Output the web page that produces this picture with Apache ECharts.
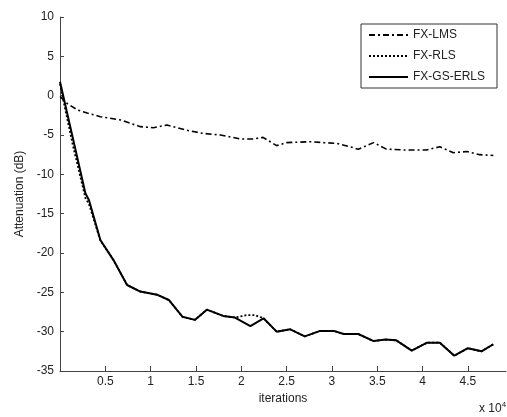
<!DOCTYPE html>
<html>
<head>
<meta charset="utf-8">
<script src="https://cdn.jsdelivr.net/npm/echarts@6/dist/echarts.min.js"></script>
<style>html,body{margin:0;padding:0;background:#fff}#c{width:507px;height:417px}</style>
</head>
<body>
<div id="c"></div>
<script>
// x values in units of 1e4 iterations
const lmsX = [0, 0.08, 0.19, 0.30, 0.445, 0.67, 0.886, 1.03, 1.18, 1.40, 1.58, 1.77, 1.99, 2.13, 2.24, 2.39, 2.50, 2.76, 2.91, 3.05, 3.20, 3.29, 3.46, 3.60, 3.79, 4.04, 4.19, 4.34, 4.49, 4.63, 4.78];
const lmsY = [-0.1, -1.0, -1.8, -2.2, -2.67, -3.1, -3.94, -4.07, -3.73, -4.4, -4.8, -5.0, -5.5, -5.5, -5.3, -6.35, -5.97, -5.85, -5.97, -6.06, -6.5, -6.8, -5.97, -6.8, -6.9, -6.9, -6.5, -7.25, -7.1, -7.5, -7.6];

const gsX = [0, 0.14, 0.28, 0.32, 0.445, 0.59, 0.74, 0.886, 1.07, 1.20, 1.35, 1.49, 1.62, 1.80, 1.93, 2.10, 2.245, 2.39, 2.54, 2.70, 2.87, 3.02, 3.13, 3.29, 3.46, 3.59, 3.71, 3.88, 4.05, 4.19, 4.35, 4.50, 4.65, 4.78];
const gsY = [1.78, -5.3, -12.4, -13.3, -18.35, -20.9, -24.07, -24.9, -25.3, -25.97, -28.1, -28.5, -27.2, -28.0, -28.2, -29.3, -28.3, -30.0, -29.7, -30.6, -29.9, -29.9, -30.3, -30.3, -31.2, -31.0, -31.1, -32.4, -31.4, -31.4, -33.05, -32.1, -32.5, -31.6];

const rlsX = [0, 0.05, 0.14, 0.28, 0.32, 0.445, 0.59, 0.74, 0.886, 1.07, 1.20, 1.35, 1.49, 1.62, 1.80, 1.93, 2.06, 2.15, 2.245, 2.39, 2.54, 2.70, 2.87, 3.02, 3.13, 3.29, 3.46, 3.59, 3.71, 3.88, 4.05, 4.19, 4.35, 4.50, 4.65, 4.78];
const rlsY = [1.5, -1.3, -6.2, -13.0, -13.8, -18.4, -20.9, -24.07, -24.9, -25.3, -25.97, -28.1, -28.5, -27.2, -28.0, -28.2, -27.9, -27.9, -28.3, -30.0, -29.7, -30.6, -29.9, -29.9, -30.3, -30.3, -31.2, -31.0, -31.1, -32.4, -31.4, -31.4, -33.05, -32.1, -32.5, -31.6];

const xTicks = [0.5, 1, 1.5, 2, 2.5, 3, 3.5, 4, 4.5];
const seriesNames = ['FX-LMS', 'FX-RLS', 'FX-GS-ERLS'];

const zip = (xs, ys) => xs.map((x, i) => [x, ys[i]]);
const font = 'Liberation Sans, Arial, sans-serif';

const chart = echarts.init(document.getElementById('c'), null, {renderer: 'canvas'});
chart.setOption({
  animation: false,
  backgroundColor: '#fff',
  color: ['#000', '#000', '#000'],
  grid: {left: 60, right: 1, top: 17, bottom: 46, containLabel: false},
  legend: {
    orient: 'vertical', left: 361, top: 24,
    data: seriesNames,
    itemWidth: 39, itemHeight: 12, itemGap: 9,
    padding: [5, 12, 5, 7],
    borderColor: '#333', borderWidth: 1, borderRadius: 0,
    itemStyle: {opacity: 0},
    textStyle: {fontFamily: font, fontSize: 12, color: '#222'}
  },
  xAxis: {
    type: 'value', min: 0, max: 4.92, interval: 0.5,
    name: 'iterations', nameLocation: 'middle', nameGap: 22,
    nameTextStyle: {fontFamily: font, fontSize: 12, color: '#222'},
    axisLine: {show: true, onZero: false, lineStyle: {color: '#444', width: 1}},
    axisTick: {show: true, inside: true, length: 5, customValues: xTicks, lineStyle: {color: '#444'}},
    axisLabel: {show: true, customValues: xTicks, fontFamily: font, fontSize: 12, color: '#222', margin: 5},
    splitLine: {show: false}
  },
  yAxis: {
    type: 'value', min: -35, max: 10, interval: 5,
    name: 'Attenuation (dB)', nameLocation: 'middle', nameGap: 31,
    nameTextStyle: {fontFamily: font, fontSize: 12, color: '#222'},
    axisLine: {show: true, onZero: false, lineStyle: {color: '#444', width: 1}},
    axisTick: {show: true, inside: true, length: 4, lineStyle: {color: '#444'}},
    axisLabel: {fontFamily: font, fontSize: 12, color: '#222', margin: 6},
    splitLine: {show: false}
  },
  series: [
    {name: seriesNames[0], type: 'line', data: zip(lmsX, lmsY), showSymbol: false, symbol: 'none',
     itemStyle: {color: '#000'},
     lineStyle: {color: '#000', width: 1.6, type: [6, 3, 2, 3]}, z: 3},
    {name: seriesNames[1], type: 'line', data: zip(rlsX, rlsY), showSymbol: false, symbol: 'none',
     itemStyle: {color: '#000'},
     lineStyle: {color: '#000', width: 1.8, type: [2, 2]}, z: 2},
    {name: seriesNames[2], type: 'line', data: zip(gsX, gsY), showSymbol: false, symbol: 'none',
     itemStyle: {color: '#000'},
     lineStyle: {color: '#000', width: 2, type: 'solid'}, z: 4}
  ],
  graphic: [{
    type: 'text', left: 479, top: 401,
    style: {
      text: 'x 10{sup|4}',
      font: '12px ' + font, fill: '#222',
      rich: {sup: {fontSize: 8, verticalAlign: 'top', padding: [0, 0, 8, 0], fontFamily: font, fill: '#222'}}
    }
  }]
});
</script>
</body>
</html>
